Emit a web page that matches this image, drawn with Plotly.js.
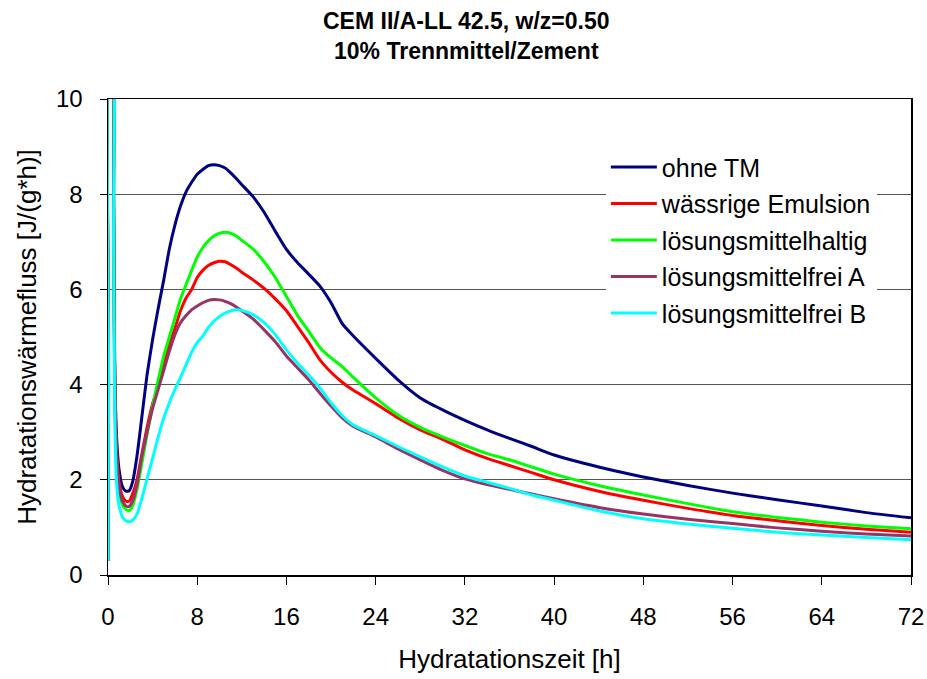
<!DOCTYPE html>
<html>
<head>
<meta charset="utf-8">
<script src="https://cdn.plot.ly/plotly-3.0.1.min.js"></script>
<style>html,body{margin:0;padding:0;background:#fff;}#chart{width:927px;height:679px;}</style>
</head>
<body>
<div id="chart"></div>
<script>
// Hydratationszeit [h]
const hours = [0, 0.05, 0.15, 0.4, 0.5, 0.6, 0.75, 1.0, 1.3,
  1.6, 1.9, 2.2, 2.6, 3.0,
  3.5, 4, 4.5, 5, 5.5, 6, 6.5, 7, 7.5, 8,
  8.5, 9, 9.5, 10, 10.5, 11, 11.5, 12,
  13, 14, 15, 16, 17, 18, 19, 20, 21, 22,
  24, 26, 28, 30, 32, 34, 36, 38, 40,
  44, 48, 52, 56, 60, 64, 68, 72];

const seriesNames = ["ohne TM", "wässrige Emulsion", "lösungsmittelhaltig", "lösungsmittelfrei A", "lösungsmittelfrei B"];

const ohneTM = [0.3, 4, 14, 14, 8, 4.5, 3.0, 2.2, 1.85,
  1.76, 1.77, 1.95, 2.5, 3.25,
  4.2, 4.95, 5.6, 6.2, 6.85, 7.35, 7.75, 8.05, 8.25, 8.42,
  8.52, 8.6, 8.62, 8.6, 8.55, 8.45, 8.33, 8.2,
  7.95, 7.62, 7.22, 6.84, 6.56, 6.32, 6.07, 5.72, 5.28, 5.02,
  4.55, 4.1, 3.72, 3.47, 3.25, 3.05, 2.87, 2.7, 2.52,
  2.27, 2.06, 1.88, 1.72, 1.58, 1.45, 1.31, 1.2];

const waessrigeEmulsion = [0.3, 4, 14, 14, 8, 4.2, 2.8, 1.95, 1.65,
  1.55, 1.55, 1.7, 2.0, 2.5,
  3.1, 3.6, 3.97, 4.45, 4.85, 5.18, 5.55, 5.82, 6.0, 6.25,
  6.4, 6.5, 6.56, 6.59, 6.58, 6.52, 6.45, 6.36,
  6.2, 6.02, 5.8, 5.55, 5.22, 4.88, 4.52, 4.26, 4.05, 3.88,
  3.6, 3.3, 3.05, 2.85, 2.63, 2.45, 2.3, 2.15, 2.0,
  1.76, 1.57, 1.4, 1.25, 1.14, 1.04, 0.96, 0.9];

const loesungsmittelhaltig = [0.3, 4, 14, 14, 8, 4.0, 2.5, 1.75, 1.48,
  1.38, 1.35, 1.45, 1.8, 2.3,
  2.95, 3.55, 4.1, 4.6, 5.0, 5.4, 5.8, 6.1, 6.4, 6.68,
  6.88, 7.02, 7.12, 7.18, 7.2, 7.18, 7.12, 7.03,
  6.85, 6.58, 6.25, 5.85, 5.45, 5.12, 4.78, 4.56, 4.38, 4.15,
  3.72, 3.36, 3.1, 2.9, 2.72, 2.55, 2.42, 2.27, 2.12,
  1.88, 1.68, 1.5, 1.33, 1.21, 1.11, 1.03, 0.97];

const loesungsmittelfreiA = [0.3, 4, 14, 14, 8, 4.0, 2.6, 1.85, 1.55,
  1.45, 1.44, 1.55, 1.9, 2.45,
  3.0, 3.5, 3.9, 4.3, 4.7, 5.05, 5.3, 5.45, 5.57, 5.65,
  5.72, 5.77, 5.79, 5.78, 5.75, 5.7, 5.63, 5.55,
  5.38, 5.15, 4.9, 4.6, 4.35, 4.1, 3.82, 3.55, 3.3, 3.12,
  2.9, 2.65, 2.42, 2.2, 2.02, 1.9, 1.8, 1.7, 1.6,
  1.42, 1.28, 1.17, 1.08, 0.99, 0.92, 0.86, 0.82];

const loesungsmittelfreiB = [0.3, 4, 14, 14, 7, 3.5, 2.0, 1.45, 1.22,
  1.14, 1.12, 1.15, 1.28, 1.58,
  2.02, 2.45, 2.9, 3.3, 3.62, 3.9, 4.15, 4.42, 4.68, 4.88,
  5.02, 5.2, 5.33, 5.43, 5.5, 5.55, 5.57, 5.56,
  5.47, 5.3, 5.05, 4.73, 4.45, 4.2, 3.93, 3.62, 3.35, 3.15,
  2.93, 2.7, 2.48, 2.27, 2.08, 1.95, 1.82, 1.68, 1.57,
  1.35, 1.18, 1.07, 0.98, 0.9, 0.84, 0.79, 0.74];

const xTicks = [0, 8, 16, 24, 32, 40, 48, 56, 64, 72];
const yTicks = [0, 2, 4, 6, 8, 10];

const seriesValues = [ohneTM, waessrigeEmulsion, loesungsmittelhaltig, loesungsmittelfreiA, loesungsmittelfreiB];
const seriesColors = ["#000080", "#FF0000", "#00FF00", "#993366", "#00FFFF"];

const traces = seriesValues.map((vals, i) => ({
  type: "scatter",
  mode: "lines",
  x: hours,
  y: vals,
  name: seriesNames[i],
  legendgroup: "g" + i,
  line: { color: seriesColors[i], width: 3, shape: "spline", smoothing: 0.5 },
  hoverinfo: "x+y+name"
}));

const baseFont = "Liberation Sans, Arial, sans-serif";

const layout = {
  width: 927,
  height: 679,
  paper_bgcolor: "#ffffff",
  plot_bgcolor: "#ffffff",
  margin: { l: 108, r: 16, t: 99, b: 104, pad: 0 },
  font: { family: baseFont, color: "#000000", size: 24 },
  title: {
    text: "<b>CEM II/A-LL 42.5, w/z=0.50<br>10% Trennmittel/Zement</b>",
    font: { family: baseFont, size: 23, color: "#000000" },
    x: 0.503, xref: "container", xanchor: "center",
    y: 0.957, yref: "container", yanchor: "middle"
  },
  xaxis: {
    range: [0, 72],
    tickmode: "array",
    tickvals: xTicks,
    ticktext: xTicks.map(String),
    ticks: "outside",
    ticklen: 8,
    tickcolor: "#000000",
    tickwidth: 1,
    showline: true,
    linecolor: "#000000",
    linewidth: 1.5,
    mirror: true,
    showgrid: false,
    zeroline: false,
    tickfont: { family: baseFont, size: 24, color: "#000000" },
    ticklabelstandoff: 12,
    title: { text: "Hydratationszeit [h]", font: { family: baseFont, size: 26, color: "#000000" }, standoff: 20 }
  },
  yaxis: {
    range: [0, 10],
    tickmode: "array",
    tickvals: yTicks,
    ticktext: yTicks.map(String),
    ticks: "outside",
    ticklen: 7,
    tickcolor: "#000000",
    tickwidth: 1,
    showline: true,
    linecolor: "#000000",
    linewidth: 1.5,
    mirror: true,
    showgrid: true,
    gridcolor: "#555555",
    gridwidth: 1,
    zeroline: false,
    tickfont: { family: baseFont, size: 24, color: "#000000" },
    ticklabelstandoff: 12,
    title: { text: "Hydratationswärmefluss [J/(g*h)]", font: { family: baseFont, size: 26, color: "#000000" }, standoff: 12 }
  },
  legend: {
    x: 0.62, xanchor: "left",
    y: 0.905, yanchor: "top",
    bgcolor: "#ffffff",
    borderwidth: 0,
    font: { family: baseFont, size: 25, color: "#000000" },
    tracegroupgap: 1,
    traceorder: "grouped",
    itemwidth: 46
  },
  showlegend: true
};

Plotly.newPlot("chart", traces, layout, { displayModeBar: false, staticPlot: true });
</script>
</body>
</html>
